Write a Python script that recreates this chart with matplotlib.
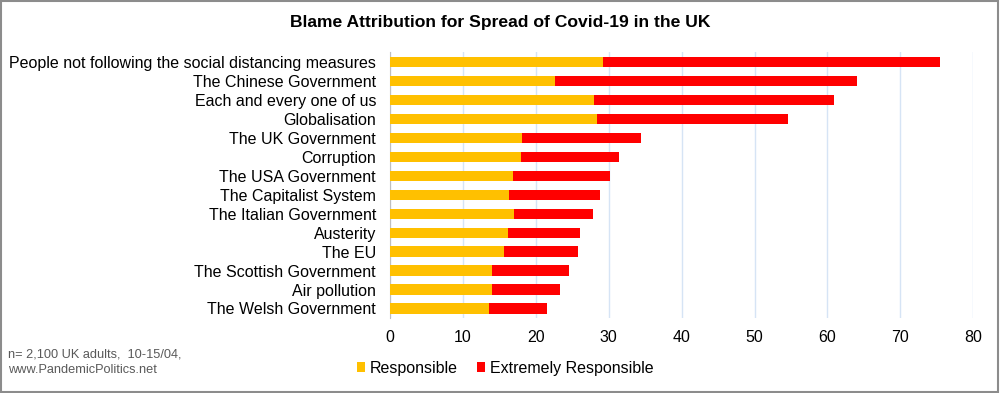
import numpy as np
import matplotlib.pyplot as plt
from matplotlib.patches import Rectangle

plt.rcParams['font.family'] = ['Liberation Sans', 'DejaVu Sans']

categories = ['People not following the social distancing measures',
              'The Chinese Government', 'Each and every one of us',
              'Globalisation', 'The UK Government', 'Corruption',
              'The USA Government', 'The Capitalist System',
              'The Italian Government', 'Austerity', 'The EU',
              'The Scottish Government', 'Air pollution',
              'The Welsh Government']
responsible = [29.2, 22.6, 28.0, 28.4, 18.1, 17.9, 16.9, 16.3, 17.0, 16.2,
               15.7, 14.0, 14.0, 13.6]
totals = [75.4, 64.1, 60.9, 54.6, 34.4, 31.4, 30.2, 28.8, 27.9, 26.1,
          25.8, 24.6, 23.3, 21.6]
extremely = [t - r for t, r in zip(totals, responsible)]
xticks = [0, 10, 20, 30, 40, 50, 60, 70, 80]

fig = plt.figure(figsize=(10, 3.93), dpi=100)
ax = fig.add_axes([0.39, 0.191, 0.5833, 0.677])

y = np.arange(len(categories))
ax.barh(y, responsible, height=0.55, color='#ffc000', label='Responsible', zorder=3)
ax.barh(y, extremely, left=responsible, height=0.55, color='#ff0000',
        label='Extremely Responsible', zorder=3)

ax.set_ylim(len(categories) - 0.5, -0.55)
ax.set_xlim(0, 80)
ax.set_xticks(xticks)
ax.set_yticks(y)
ax.set_yticklabels(categories, fontsize=11.5)
ax.tick_params(axis='x', labelsize=11.5, length=0, pad=9)
ax.tick_params(axis='y', length=0, pad=10)
ax.grid(axis='x', color='#d6e4f5', linewidth=1, zorder=0)
for s in ['top', 'right', 'bottom']:
    ax.spines[s].set_visible(False)
ax.spines['left'].set_color('#bfbfbf')

fig.text(0.5, 0.943, 'Blame Attribution for Spread of Covid-19 in the UK',
         ha='center', va='center', fontsize=12.6, fontweight='bold')
fig.text(0.008, 0.078, 'n= 2,100 UK adults,  10-15/04,\nwww.PandemicPolitics.net',
         ha='left', va='center', fontsize=9.2, color='#595959', linespacing=1.3)

fig.legend(loc='center', bbox_to_anchor=(0.505, 0.063), ncol=2, frameon=False,
           fontsize=11.5, handlelength=0.5, handleheight=0.6,
           handletextpad=0.3, columnspacing=1.2)

fig.patches.append(Rectangle((0.001, 0.002), 0.997, 0.995, transform=fig.transFigure,
                             fill=False, edgecolor='#8c8c8c', linewidth=1.5))

fig.savefig('out.png', dpi=100)
